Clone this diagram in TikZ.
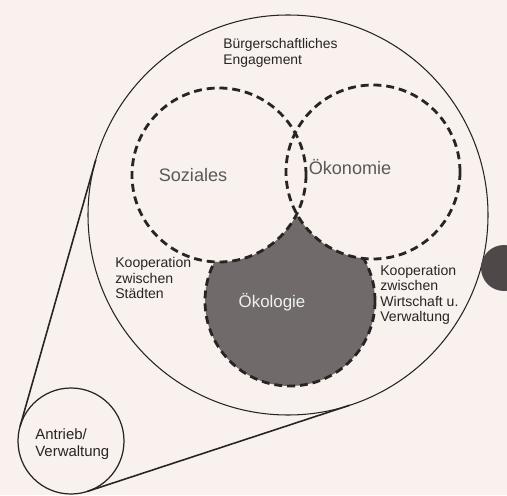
\documentclass[tikz,border=0pt]{standalone}
\usepackage{fontspec}
\setmainfont{Liberation Sans}
\usepackage{tikz}
\definecolor{paper}{RGB}{248, 241, 237}
\definecolor{inkgray}{RGB}{40, 36, 36}
\definecolor{ecogray}{RGB}{112, 106, 106}
\definecolor{dotgray}{RGB}{78, 72, 72}

\begin{document}
\begin{tikzpicture}[font=\fontsize{8}{8.8}\selectfont,
    ring/.style={circle, draw=inkgray, inner sep=0pt, outer sep=0pt},
    dashring/.style={ring, line width=1.6pt, dash pattern=on 4.5pt off 2.8pt},
    lbl/.style={align=left, anchor=west, inner sep=0pt, text=inkgray},
    mainlbl/.style={inner sep=0pt, font=\fontsize{10.3}{12}\selectfont, text=black!65}]
  \useasboundingbox (0, 0) rectangle (10.14, 9.9);
  \fill[paper] (0, 0) rectangle (10.14, 9.9);
  \clip (0, 0) rectangle (10.14, 9.9);

  \coordinate (sozc) at (4.38, 6.40);
  \coordinate (oekc) at (7.46, 6.46);
  \coordinate (okoc) at (5.80, 3.88);

  % Oekologie: only the part outside the two upper circles
  \begin{scope}[even odd rule]
    \clip (0, 0) rectangle (10.14, 9.9) (sozc) circle (1.74);
    \clip (0, 0) rectangle (10.14, 9.9) (oekc) circle (1.74);
    \fill[ecogray] (okoc) circle (1.70);
    \draw[inkgray, line width=1.6pt, dash pattern=on 4.5pt off 2.8pt] (okoc) circle (1.70);
  \end{scope}

  \node[dashring, minimum size=3.48cm] (soz) at (sozc) {};
  \node[dashring, minimum size=3.48cm] (oek) at (oekc) {};

  \node[ring, line width=0.6pt, minimum size=8cm]    (engage)  at (5.76, 5.60) {};
  \node[ring, line width=0.7pt, minimum size=2.12cm] (antrieb) at (1.42, 1.08) {};
  \node[circle, fill=dotgray, inner sep=0pt, minimum size=0.92cm] (dot) at (10.08, 4.54) {};

  % tangents small circle -> big circle
  \draw[inkgray, line width=0.9pt] (antrieb.164.1) -- (engage.164.1);
  \draw[inkgray, line width=0.9pt] (antrieb.288)   -- (engage.288);

  \node[mainlbl] (tsoz) at (3.86, 6.40) {Soziales};
  \node[mainlbl] (toek) at (7.00, 6.56) {Ökonomie};
  \node[mainlbl, text=white!88!gray, font=\fontsize{9.6}{12}\selectfont] (toko) at (5.44, 3.86) {Ökologie};

  \node[lbl, font=\fontsize{7.9}{9}\selectfont] (tbuerg) at (4.46, 8.84) {Bürgerschaftliches\\Engagement};
  \node[lbl] (tstaedte) at (2.30, 4.34) {Kooperation\\zwischen\\Städten};
  \node[lbl] (twirt) at (7.60, 4.00) {Kooperation\\zwischen\\Wirtschaft u.\\Verwaltung};
  \node[lbl, font=\fontsize{8.5}{10}\selectfont] (tantrieb) at (0.70, 1.02) {Antrieb/\\Verwaltung};
\end{tikzpicture}
\end{document}
